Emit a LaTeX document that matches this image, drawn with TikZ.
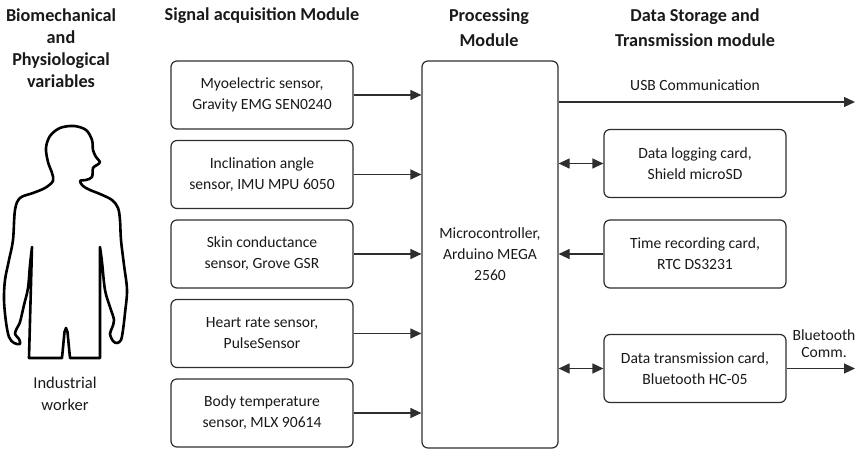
\documentclass[tikz,border=0pt]{standalone}
\usepackage{fontspec}
\setmainfont{Carlito}
\usetikzlibrary{arrows.meta}

\begin{document}
\begin{tikzpicture}[x=1pt,y=-1pt,
  line/.style={draw=black!82, line width=1.2pt},
  box/.style={line, rounded corners=6pt, minimum width=182pt, minimum height=68pt,
    inner sep=0pt, align=center, text=black!90, font=\fontsize{15.6}{21}\selectfont},
  hdr/.style={align=center, text=black!90, font=\fontsize{18.2}{22}\selectfont\bfseries},
  lbl/.style={align=center, text=black!90, font=\fontsize{15.6}{17}\selectfont},
  tip/.tip={Triangle[length=11pt,width=10pt]},
  link/.style={line, -tip},
  dlink/.style={line, tip-tip}
]
\useasboundingbox (0,0) rectangle (860,449);

% column headings
\node[hdr] (hbio) at (61,48.5) {Biomechanical\\and\\Physiological\\variables};
\node[hdr] (hsig) at (262,16) {Signal acquisition Module};
\node[hdr, font=\fontsize{18.2}{25}\selectfont\bfseries] (hproc) at (489,28) {Processing\\Module};
\node[hdr, font=\fontsize{18.2}{25}\selectfont\bfseries] (hdata) at (695,28) {Data Storage and\\Transmission module};

% worker silhouette
\draw[black, line width=2.6pt, line join=round]
  (32,247) -- (29,358) -- (62,358) -- (64.5,332) -- (66,328) -- (67.5,332) -- (70,358) -- (100,358) -- (100,247)
  -- plot[smooth, tension=0.55] coordinates {
    (100,247) (102,262) (105,290) (110,307) (114,320) (112,328) (110,334)
    (113,341) (117,343) (121,340) (123,330) (125,313) (127,290) (124,265)
    (121,240) (120,220) (118,208) (112,200) (100,194) (90,190) (83,186)
    (80,181) (86,180) (92,177) (93,168) (97,165) (100,162) (96,157)
    (93,150) (92,140) (86,130) (74,126) (60,128) (50,136) (46,148)
    (48,162) (52,173) (53,181) (45,188) (33,193) (20,198) (15,210)
    (13,240) (9,260) (5,280) (4,300) (6,322) (9,337) (14,343) (20,344)
    (19,339) (15,334) (17,328) (20,322) (24,305) (28,288) (30,265) (32,247)}
  -- cycle;
\node[lbl, font=\fontsize{16.5}{22}\selectfont] (worker) at (65,394) {Industrial\\worker};

% signal acquisition sensors
\node[box] (s1) at (262,95)    {Myoelectric sensor,\\Gravity EMG SEN0240};
\node[box] (s2) at (262,174.5) {Inclination angle\\sensor, IMU MPU 6050};
\node[box] (s3) at (262,254)   {Skin conductance\\sensor, Grove GSR};
\node[box] (s4) at (262,333.5) {Heart rate sensor,\\PulseSensor};
\node[box] (s5) at (262,413)   {Body temperature\\sensor, MLX 90614};

% processing module
\node[box, minimum width=136pt, minimum height=387pt] (proc) at (490,254.5)
  {Microcontroller,\\Arduino MEGA\\2560};

% storage and transmission
\node[box] (d1) at (695,163.5) {Data logging card,\\Shield microSD};
\node[box] (d2) at (695,254)   {Time recording card,\\RTC DS3231};
\node[box] (d3) at (695,368.5) {Data transmission card,\\Bluetooth HC-05};

% sensor links
\foreach \s in {s1,s2,s3,s4,s5}
  \draw[link] (\s.east) -- (\s.east -| proc.west);

% USB output
\coordinate (usbstart) at (proc.east |- 0,102);
\coordinate (usbend) at (855,102);
\draw[link] (usbstart) -- (usbend);
\node[lbl] (usb) at (695,85) {USB Communication};

% storage links
\draw[dlink] (proc.east |- d1.west) -- (d1.west);
\draw[link] (d2.west) -- (d2.west -| proc.east);
\draw[dlink] (proc.east |- d3.west) -- (d3.west);

% Bluetooth output
\coordinate (btend) at (855,368.5);
\draw[link] (d3.east) -- (btend);
\node[lbl] (bt) at (824,343.5) {Bluetooth\\Comm.};
\end{tikzpicture}
\end{document}
